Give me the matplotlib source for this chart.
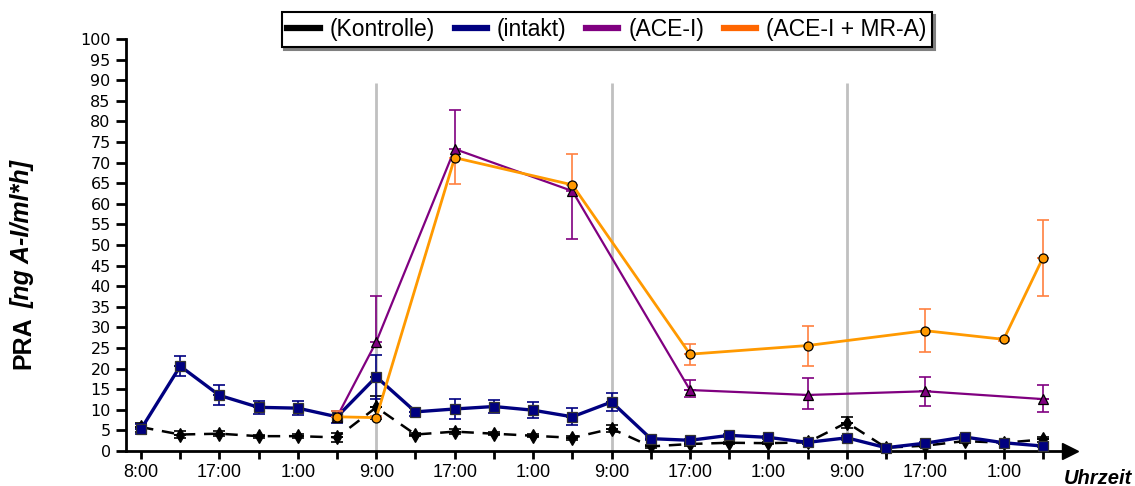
import numpy as np
import matplotlib
matplotlib.use("Agg")
import matplotlib.pyplot as plt
from matplotlib.lines import Line2D

# ---------------- data ----------------
tick_labels = ['8:00', '', '17:00', '', '1:00', '', '9:00', '', '17:00', '', '1:00', '',
               '9:00', '', '17:00', '', '1:00', '', '9:00', '', '17:00', '', '1:00', '']

nan = np.nan
kontrolle = [5.8, 4.0, 4.2, 3.6, 3.6, 3.3, 10.6, 4.0, 4.7, 4.2, 3.7, 3.2,
             5.4, 1.1, 1.7, 2.0, 1.9, 2.1, 6.9, 0.8, 1.3, 2.4, 2.0, 2.8]
kontrolle_err = [1.1, 0.8, 0.6, 0.4, 0.5, 1.0, 2.8, 0.4, 0.6, 0.4, 0.4, 0.5,
                 0.9, 0.3, 0.4, 0.3, 0.3, 0.4, 1.4, 0.3, 0.3, 0.4, 0.3, 0.6]

intakt = [5.3, 20.6, 13.5, 10.6, 10.4, 8.3, 18.0, 9.5, 10.2, 10.8, 9.9, 8.3,
          11.9, 3.0, 2.6, 3.8, 3.3, 2.1, 3.2, 0.8, 1.9, 3.4, 2.0, 1.2]
intakt_err = [1.2, 2.4, 2.4, 1.5, 1.7, 1.5, 5.4, 1.0, 2.4, 1.6, 1.9, 2.1,
              2.2, 0.4, 0.4, 0.4, 0.4, 0.4, 0.5, 0.3, 0.4, 0.4, 0.3, 0.3]

ace = [nan, nan, nan, nan, nan, 8.3, 26.5, nan, 73.3, nan, nan, 63.1,
       nan, nan, 14.8, nan, nan, 13.6, nan, nan, 14.5, nan, nan, 12.6]
ace_err_lo = [nan, nan, nan, nan, nan, 0.0, 0.0, nan, 0.0, nan, nan, 11.7,
              nan, nan, 1.8, nan, nan, 3.5, nan, nan, 3.5, nan, nan, 3.1]
ace_err_hi = [nan, nan, nan, nan, nan, 0.0, 11.1, nan, 9.5, nan, nan, 0.0,
              nan, nan, 2.4, nan, nan, 4.0, nan, nan, 3.4, nan, nan, 3.4]

acemr = [nan, nan, nan, nan, nan, 8.3, 8.1, nan, 71.2, nan, nan, 64.6,
         nan, nan, 23.5, nan, nan, 25.6, nan, nan, 29.2, nan, 27.1, 46.9]
acemr_err_lo = [nan, nan, nan, nan, nan, 0.0, 0.0, nan, 6.5, nan, nan, 0.0,
                nan, nan, 2.6, nan, nan, 4.9, nan, nan, 5.2, nan, 0.3, 9.2]
acemr_err_hi = [nan, nan, nan, nan, nan, 1.5, 0.3, nan, 0.0, nan, nan, 7.6,
                nan, nan, 2.5, nan, nan, 4.7, nan, nan, 5.3, nan, 0.3, 9.2]

legend_labels = ['(Kontrolle)', '(intakt)', '(ACE-I)', '(ACE-I + MR-A)']
day_lines = [6, 12, 18]

# ---------------- figure ----------------
W, H = 1135, 486
fig = plt.figure(figsize=(W / 100, H / 100), dpi=100)
ax = fig.add_axes([126 / W, 35 / H, 944 / W, 412 / H])
ax.set_xlim(-0.382, 23.69)
ax.set_ylim(0, 100)

x = np.arange(len(tick_labels))

def valid(vals, lo, hi):
    v = np.array(vals, dtype=float)
    l = np.array(lo, dtype=float)
    h = np.array(hi, dtype=float)
    m = ~np.isnan(v)
    return x[m], v[m], l[m], h[m]

ax.vlines(day_lines, 0, 89.3, color='#c0c0c0', lw=2, zorder=0)

styles = [
    dict(color='black', ls=(0, (5, 3.5)), lw=1.8, marker='d', ms=7, mfc='black', mec='black',
         ecolor='black', elw=1.2),
    dict(color='#000080', ls='-', lw=2.4, marker='s', ms=7.5, mfc='#000080', mec='#333333',
         ecolor='#000080', elw=1.2),
    dict(color='#800080', ls='-', lw=1.6, marker='^', ms=7, mfc='#800080', mec='black',
         ecolor='#800080', elw=1.2),
    dict(color='#FF9900', ls='-', lw=2.0, marker='o', ms=6.5, mfc='#FF9900', mec='black',
         ecolor='#FF8040', elw=1.2),
]
series = [(kontrolle, kontrolle_err, kontrolle_err), (intakt, intakt_err, intakt_err),
          (ace, ace_err_lo, ace_err_hi), (acemr, acemr_err_lo, acemr_err_hi)]

for i, ((vals, lo, hi), st) in enumerate(zip(series, styles)):
    xx, vv, ll, hh = valid(vals, lo, hi)
    for sel_err, sign in ((hh, 1), (ll, -1)):
        mk = sel_err > 0
        if mk.any():
            yerr = np.zeros((2, mk.sum()))
            if sign > 0:
                yerr[1] = sel_err[mk]
            else:
                yerr[0] = sel_err[mk]
            ax.errorbar(xx[mk], vv[mk], yerr=yerr, fmt='none', ecolor=st['ecolor'],
                        elinewidth=st['elw'], capsize=4, capthick=1.2, zorder=2 + i,
                        clip_on=False)
    ax.plot(xx, vv, color=st['color'], ls=st['ls'], lw=st['lw'], marker=st['marker'],
            ms=st['ms'], mfc=st['mfc'], mec=st['mec'], mew=0.9, zorder=2.5 + i, clip_on=False)

# axes styling
for s in ['top', 'right']:
    ax.spines[s].set_visible(False)
ax.spines['left'].set_linewidth(2)
ax.spines['bottom'].set_linewidth(2)
ax.plot(1, 0, marker='>', color='black', ms=11, transform=ax.transAxes, clip_on=False, zorder=10)

ax.set_yticks(range(0, 101, 5))
ax.set_yticklabels([str(v) for v in range(0, 101, 5)], fontsize=11.5, family='DejaVu Sans')
ax.set_xticks(x)
ax.set_xticklabels(tick_labels, fontsize=13, family='Liberation Sans')
ax.tick_params(axis='y', length=7, width=2, pad=4)
ax.tick_params(axis='x', length=6, width=2, pad=3)

# y label: "PRA" bold + "[ng A-I/ml*h]" bold italic
t1 = fig.text(23 / W, 1 - 369 / H, 'PRA', rotation=90, ha='center', va='bottom',
              fontsize=18, weight='bold', family='Liberation Sans')
fig.canvas.draw()
bb = t1.get_window_extent()
fig.text(23 / W, (bb.y1 + 8) / H, '[ng A-I/ml*h]', rotation=90, ha='center', va='bottom',
         fontsize=18, weight='bold', style='italic', family='Liberation Sans')

fig.text(1132 / W, 1 - 478 / H, 'Uhrzeit', ha='right', va='center', fontsize=14.5,
         weight='bold', style='italic', family='Liberation Sans')

# legend
colors = ['black', '#000080', '#800080', '#FF6600']
handles = [Line2D([], [], color=c, lw=4.5) for c in colors]
leg = fig.legend(handles, legend_labels, loc='center', bbox_to_anchor=(607 / W, 1 - 29.5 / H),
                 ncol=4, frameon=True, fancybox=False, shadow={'color': '#808080', 'alpha': 1.0},
                 borderpad=0.25, handlelength=1.4, handletextpad=0.45, columnspacing=0.85,
                 borderaxespad=0, prop={'family': 'Liberation Sans', 'size': 16.5}, framealpha=1)
leg.get_frame().set_edgecolor('black')
leg.get_frame().set_linewidth(1.5)

fig.savefig('out.png', dpi=100)
